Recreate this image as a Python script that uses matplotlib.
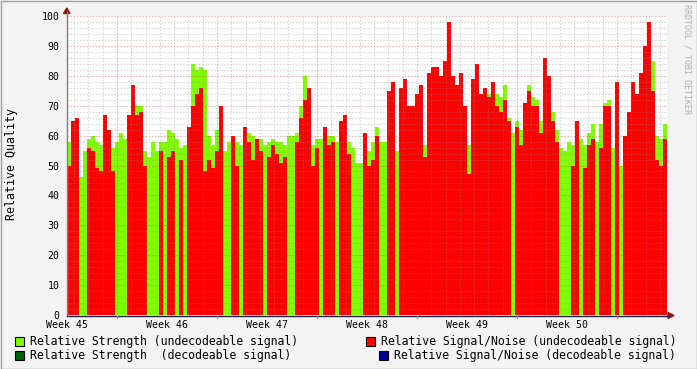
import numpy as np
import matplotlib
matplotlib.use('Agg')
from matplotlib import pyplot as plt
from matplotlib.patches import Rectangle, Polygon
from matplotlib.lines import Line2D

# x tick labels, one per week
weeks = ['Week 45', 'Week 46', 'Week 47', 'Week 48', 'Week 49', 'Week 50']
n_weeks = 6

# relative strength (undecodeable), one value per 6.72 h step
strength = [58, 45, 55, 46, 55, 59, 60, 58, 57, 57,
            57, 56, 58, 61, 59, 52, 58, 70, 70, 55,
            53, 58, 55, 58, 58, 62, 61, 59, 56, 57,
            58, 84, 82, 83, 82, 60, 57, 62, 60, 55,
            58, 60, 58, 57, 60, 61, 60, 58, 59, 57,
            58, 59, 58, 58, 57, 60, 60, 61, 70, 80,
            59, 57, 59, 59, 55, 60, 60, 58, 58, 58,
            58, 56, 51, 51, 60, 55, 58, 63, 58, 58,
            64, 48, 55, 58, 58, 58, 58, 58, 58, 57,
            57, 58, 58, 57, 54, 58, 58, 58, 58, 62,
            57, 58, 58, 60, 58, 74, 58, 74, 73, 77,
            66, 61, 65, 62, 70, 77, 73, 72, 65, 58,
            79, 68, 62, 56, 55, 58, 57, 62, 59, 57,
            61, 64, 58, 64, 71, 72, 56, 58, 50, 57,
            57, 58, 58, 58, 62, 58, 85, 60, 59, 64]

# relative signal/noise (undecodeable), 0 = nothing recorded
snr = [50, 65, 66, 0, 0, 56, 55, 49, 48, 67,
       62, 48, 0, 0, 0, 67, 77, 67, 68, 50,
       0, 0, 0, 55, 0, 53, 55, 0, 52, 0,
       63, 70, 74, 76, 48, 52, 49, 55, 70, 0,
       0, 60, 50, 0, 63, 58, 52, 59, 55, 0,
       53, 57, 54, 51, 53, 0, 0, 58, 66, 72,
       76, 50, 56, 0, 63, 57, 58, 0, 65, 67,
       54, 0, 0, 0, 61, 50, 52, 60, 0, 0,
       75, 78, 0, 76, 79, 70, 70, 74, 77, 53,
       81, 83, 83, 80, 85, 98, 80, 77, 81, 70,
       47, 79, 84, 74, 76, 73, 78, 70, 68, 72,
       65, 0, 63, 57, 71, 75, 70, 70, 61, 86,
       80, 65, 58, 0, 0, 0, 50, 65, 0, 49,
       57, 59, 0, 56, 70, 70, 0, 78, 0, 60,
       68, 78, 74, 81, 90, 98, 75, 52, 50, 59]

W, H = 697, 369
mono = 'DejaVu Sans Mono'


def px(x, y):
    # pixel position -> figure fraction
    return x / W, 1 - y / H


fig = plt.figure(figsize=(W / 100, H / 100), dpi=100, facecolor='#F3F3F3')
ax = fig.add_axes([67 / W, (H - 315) / H, 600 / W, 299 / H])
ax.set_facecolor('white')

edges = np.linspace(0, n_weeks, len(strength) + 1)
ax.stairs(strength, edges, fill=True, color='#80FF00', lw=0, zorder=1)
ax.stairs(snr, edges, fill=True, color='#FF0000', lw=0, zorder=2)

ax.set_xlim(0, n_weeks)
ax.set_ylim(0, 100)

# grid on top of the data, like rrdtool
for v in range(2, 100, 2):
    if v % 10:
        ax.axhline(v, color='#8C8C8C', alpha=0.35, lw=0.75, ls=(0, (1.5, 1.5)), zorder=3)
for v in range(10, 101, 10):
    ax.axhline(v, color='#B03030', alpha=0.35, lw=0.75, ls=(0, (1.5, 1.5)), zorder=3)
for k in range(-3, 40):
    t = 0.5 + k / 7
    if 0 < t < n_weeks and k % 7:
        ax.axvline(t, color='#8C8C8C', alpha=0.35, lw=0.75, ls=(0, (1.5, 1.5)), zorder=3)
for w in range(n_weeks):
    ax.axvline(w + 0.5, color='#B03030', alpha=0.35, lw=0.75, ls=(0, (1.5, 1.5)), zorder=3)

for s in ax.spines.values():
    s.set_visible(False)
ax.set_xticks(range(n_weeks))
ax.set_xticklabels(weeks, family=mono, fontsize=7.1)
ax.set_yticks(range(0, 101, 10))
ax.set_yticklabels([str(v) for v in range(0, 101, 10)], family=mono, fontsize=7.1)
ax.tick_params(axis='x', length=0, pad=3.5, colors='#000000')
ax.tick_params(axis='y', length=0, pad=5.5, colors='#000000')

# axes with arrows
fig.add_artist(Line2D(*zip(px(66.5, 315), px(66.5, 12)), color='#808080', lw=1))
fig.add_artist(Line2D(*zip(px(67, 315.5), px(669, 315.5)), color='#202050', lw=1))
fig.add_artist(Polygon([px(63.5, 13.5), px(70, 13.5), px(66.8, 8)], closed=True,
                       color='#8B1A1A', transform=fig.transFigure))
fig.add_artist(Polygon([px(668, 312.5), px(668, 318.5), px(674, 315.5)], closed=True,
                       color='#8B1A1A', transform=fig.transFigure))
for w in range(n_weeks):
    x = 67 + 100 * (w + 0.5)
    fig.add_artist(Line2D(*zip(px(x, 316), px(x, 318)), color='#FF6060', lw=0.8))

fig.text(*px(12, 164), 'Relative Quality', rotation=90, ha='center', va='center',
         family=mono, fontsize=8.4)
fig.text(*px(687, 4), 'RRDTOOL / TOBI OETIKER', rotation=270, ha='center', va='top',
         family=mono, fontsize=6, color='#B0B0B0')

# legend
legend = [(15, 341, '#80FF00', 'Relative Strength (undecodeable signal)'),
          (15, 355, '#006400', 'Relative Strength  (decodeable signal)'),
          (366, 341, '#FF0000', 'Relative Signal/Noise (undecodeable signal)'),
          (379, 355, '#000099', 'Relative Signal/Noise (decodeable signal)')]
for x, y, c, label in legend:
    fx, fy = px(x, y + 4.5)
    fig.add_artist(Rectangle((fx, fy), 9 / W, 9 / H, facecolor=c, edgecolor='black',
                             lw=0.8, transform=fig.transFigure))
    fig.text(*px(x + 15, y), label, va='center', ha='left', family=mono, fontsize=8.3)

# outer frame
fig.add_artist(Rectangle((0.5 / W, 0.5 / H), (W - 1) / W, (H - 1) / H, fill=False,
                         edgecolor='#A0A0A0', lw=1, transform=fig.transFigure))

fig.savefig('out.png', dpi=100, facecolor=fig.get_facecolor())
